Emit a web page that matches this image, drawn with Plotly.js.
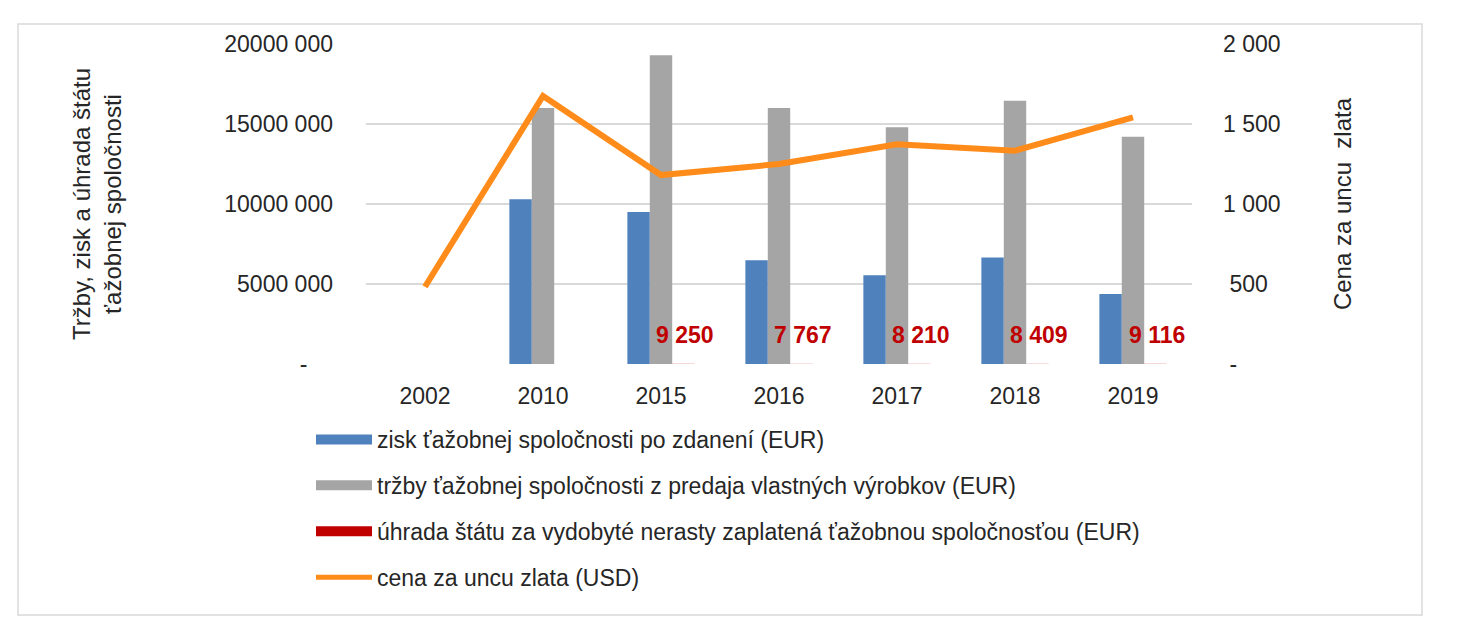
<!DOCTYPE html>
<html>
<head>
<meta charset="utf-8">
<script src="https://cdn.plot.ly/plotly-3.0.1.min.js"></script>
<style>
html,body{margin:0;padding:0;background:#fff;}
#chart{width:1469px;height:628px;}
</style>
</head>
<body>
<div id="chart"></div>
<script>
// ---- data ----
var years = ['2002','2010','2015','2016','2017','2018','2019'];
var ziskEUR = [null, 10300000, 9500000, 6480000, 5540000, 6650000, 4380000];
var trzbyEUR = [null, 16000000, 19300000, 16000000, 14800000, 16450000, 14200000];
var uhradaEUR = [null, null, 9250, 7767, 8210, 8409, 9116];
var uhradaLabels = ['', '', '9 250', '7 767', '8 210', '8 409', '9 116'];
var cenaUSD = [483, 1675, 1181, 1250, 1373, 1333, 1542];

var seriesNames = [
  'zisk ťažobnej spoločnosti po zdanení (EUR)',
  'tržby ťažobnej spoločnosti z predaja vlastných výrobkov (EUR)',
  'úhrada štátu za vydobyté nerasty zaplatená ťažobnou spoločnosťou (EUR)',
  'cena za uncu zlata (USD)'
];
var leftTickVals = [0, 5000000, 10000000, 15000000, 20000000];
var leftTickText = ['-\u00a0\u00a0\u00a0\u00a0', '5000 000', '10000 000', '15000 000', '20000 000'];
var rightTickVals = [0, 500, 1000, 1500, 2000];
var rightTickText = ['\u00a0-', '\u00a0500', '1 000', '1 500', '2 000'];

var FONT = '"Liberation Sans Narrow", "Arial Narrow", "Liberation Sans", Arial, sans-serif';
var FS = 23;
var C_BLUE = '#4F81BD', C_GRAY = '#A5A5A5', C_RED = '#C00000', C_ORANGE = '#FF8C1A';

var traces = [
  {type:'bar', x:years, y:ziskEUR, name:seriesNames[0], marker:{color:C_BLUE}, showlegend:false},
  {type:'bar', x:years, y:trzbyEUR, name:seriesNames[1], marker:{color:C_GRAY}, showlegend:false},
  {type:'bar', x:years, y:uhradaEUR, name:seriesNames[2], marker:{color:C_RED}, showlegend:false},
  {type:'scatter', mode:'lines', x:years, y:cenaUSD, yaxis:'y2', name:seriesNames[3],
   line:{color:C_ORANGE, width:6}, showlegend:false},
  // legend entries (wide swatches like the original)
  {type:'scatter', mode:'lines', x:[years[0]], y:[null], name:seriesNames[0], line:{color:C_BLUE, width:12}, legendgroup:'a'},
  {type:'scatter', mode:'lines', x:[years[0]], y:[null], name:seriesNames[1], line:{color:C_GRAY, width:12}, legendgroup:'b'},
  {type:'scatter', mode:'lines', x:[years[0]], y:[null], name:seriesNames[2], line:{color:C_RED, width:12}, legendgroup:'c'},
  {type:'scatter', mode:'lines', x:[years[0]], y:[null], name:seriesNames[3], line:{color:C_ORANGE, width:5}, legendgroup:'d'}
];

// data labels of the red series (positioned on its bar through the axes: category index + bar offset)
var annotations = [];
for (var i = 0; i < years.length; i++) {
  if (uhradaEUR[i] !== null) {
    annotations.push({
      x: i, y: uhradaEUR[i], xref:'x', yref:'y',
      text: '<b>' + uhradaLabels[i] + '</b>', showarrow:false, xshift:24, yshift:29,
      xanchor:'center', yanchor:'middle',
      font:{family:FONT, size:FS, color:C_RED}
    });
  }
}

var plotL = 366, plotR = 1192, plotT = 44, plotB = 364;
var W = 1469, H = 628;
var pw = plotR - plotL, ph = plotB - plotT;
function px2x(px){ return (px - plotL) / pw; }
function py2y(py){ return (plotB - py) / ph; }

var layout = {
  width: W, height: H,
  margin: {l: plotL, r: W - plotR, t: plotT, b: H - plotB, pad: 0},
  paper_bgcolor: '#fff', plot_bgcolor: '#fff',
  font: {family: FONT, size: FS, color: '#262626'},
  barmode: 'group', bargap: 0.43, bargroupgap: 0,
  showlegend: true,
  xaxis: {
    type:'category', categoryorder:'array', categoryarray: years, range:[-0.5, years.length - 0.5],
    showgrid:false, zeroline:false, showline:false,
    ticks:'', ticklabelstandoff: 16, tickfont:{size:FS, color:'#262626'}
  },
  yaxis: {
    range:[0, 20000000], tickvals:leftTickVals, ticktext:leftTickText,
    showgrid:true, gridcolor:'#D9D9D9', gridwidth:1.5, zeroline:false, showline:false,
    ticks:'', ticklabelstandoff: 32, tickfont:{size:FS, color:'#262626'},
    title:{text:'Tržby, zisk a úhrada štátu<br>ťažobnej spoločnosti', standoff: 95, font:{size:FS+1, color:'#262626'}},
    automargin:false
  },
  yaxis2: {
    overlaying:'y', side:'right', range:[0, 2000], tickvals:rightTickVals, ticktext:rightTickText,
    showgrid:false, zeroline:false, showline:false,
    ticks:'', ticklabelstandoff: 30, tickfont:{size:FS, color:'#262626'},
    title:{text:'Cena za uncu\u00a0\u00a0zlata', standoff: 54, font:{size:FS+1, color:'#262626'}},
    automargin:false
  },
  legend: {
    x: px2x(311), y: py2y(418), xanchor:'left', yanchor:'top',
    orientation:'v', traceorder:'grouped', tracegroupgap: 13,
    itemwidth: 56, font:{size:FS, color:'#262626'}, bgcolor:'rgba(0,0,0,0)'
  },
  annotations: annotations,
  shapes: [{
    type:'rect', xref:'paper', yref:'paper', layer:'below',
    x0: px2x(18), x1: px2x(1422), y0: py2y(615), y1: py2y(24),
    line:{color:'#D9D9D9', width:1.5}, fillcolor:'rgba(0,0,0,0)'
  }]
};

Plotly.newPlot('chart', traces, layout, {displayModeBar:false, staticPlot:true});
</script>
</body>
</html>
